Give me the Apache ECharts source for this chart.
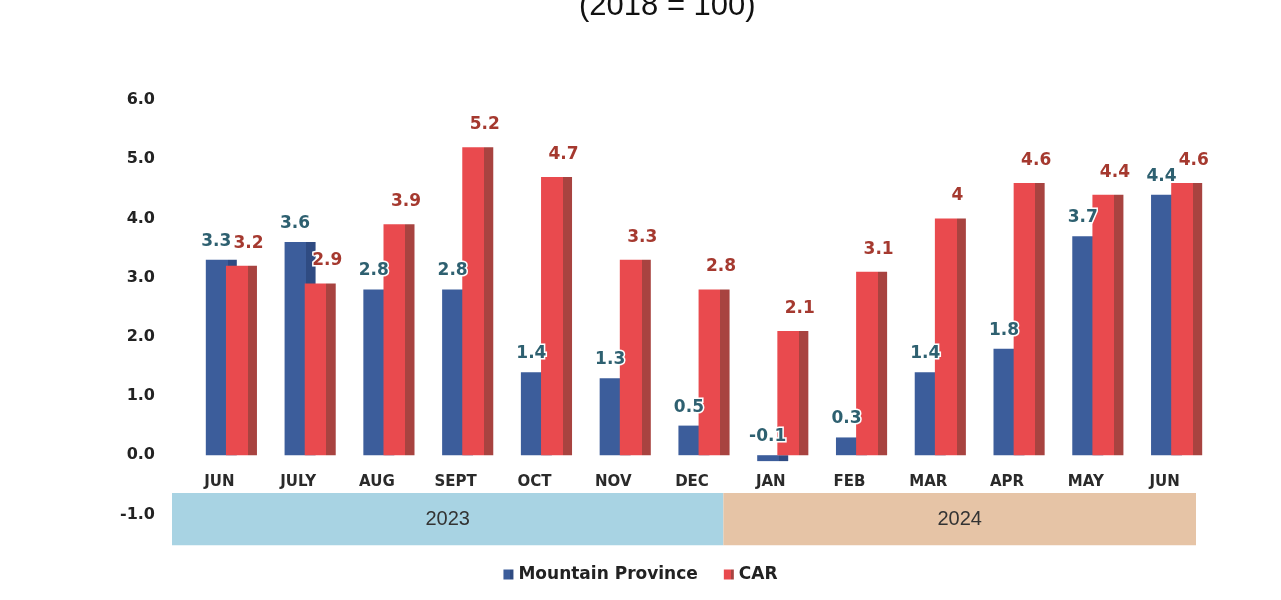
<!DOCTYPE html>
<html>
<head>
<meta charset="utf-8">
<script src="https://cdn.jsdelivr.net/npm/echarts@6/dist/echarts.min.js"></script>
<style>
  html, body { margin: 0; padding: 0; background: #fff; }
  #main { width: 1281px; height: 600px; }
</style>
</head>
<body>
<div id="main"></div>
<script>
var months = ['JUN', 'JULY', 'AUG', 'SEPT', 'OCT', 'NOV', 'DEC', 'JAN', 'FEB', 'MAR', 'APR', 'MAY', 'JUN'];
var mountainProvince = [3.3, 3.6, 2.8, 2.8, 1.4, 1.3, 0.5, -0.1, 0.3, 1.4, 1.8, 3.7, 4.4];
var car = [3.2, 2.9, 3.9, 5.2, 4.7, 3.3, 2.8, 2.1, 3.1, 4, 4.6, 4.4, 4.6];
// year bands: first month index, last month index, label
var yearBands = [[0, 6, '2023'], [7, 12, '2024']];

var chartDom = document.getElementById('main');
var myChart = echarts.init(chartDom);
var option;

// fake 3D: darker right-hand face
function faceGradient(main, side) {
  return new echarts.graphic.LinearGradient(0, 0, 1, 0, [
    { offset: 0, color: main },
    { offset: 0.7, color: main },
    { offset: 0.7, color: side },
    { offset: 1, color: side }
  ]);
}

var bandColors = ['#a8d3e3', '#e6c4a6'];

option = {
  animation: false,
  title: {
    text: '(2018 = 100)',
    left: 574,
    top: -14,
    textStyle: { fontFamily: 'Liberation Sans', fontSize: 31, fontWeight: 'normal', color: '#111' }
  },
  legend: {
    bottom: 12,
    left: 'center',
    itemWidth: 10,
    itemHeight: 10,
    itemGap: 26,
    icon: 'rect',
    data: ['Mountain Province', 'CAR'],
    textStyle: { fontFamily: 'DejaVu Sans', fontWeight: 'bold', fontSize: 17, color: '#222' }
  },
  grid: { left: 192, right: 65, top: 100, bottom: 56 },
  xAxis: {
    type: 'category',
    data: months,
    axisLine: { show: false },
    axisTick: { show: false },
    axisLabel: {
      // month names sit just under the zero line, above the year bands
      margin: -69,
      padding: [0, 24, 0, 0],
      fontFamily: 'DejaVu Sans',
      fontWeight: 'bold',
      fontSize: 15,
      color: '#2a2a2a'
    }
  },
  yAxis: {
    type: 'value',
    min: -1.5,
    max: 6,
    interval: 0.5,
    splitLine: { show: false },
    axisLine: { show: false },
    axisTick: { show: false },
    axisLabel: {
      margin: 37,
      fontFamily: 'DejaVu Sans',
      fontWeight: 'bold',
      fontSize: 16,
      color: '#222',
      formatter: function (v) {
        if (v < -1 || Math.abs(v - Math.round(v)) > 1e-6) return '';
        return v.toFixed(1);
      }
    }
  },
  series: [
    {
      type: 'custom',
      silent: true,
      z: 0,
      data: yearBands,
      renderItem: function (params, api) {
        var w = api.size([1, 0])[0];
        var a = api.coord([api.value(0), -0.64]);
        var b = api.coord([api.value(1), -1.52]);
        var x0 = a[0] - w / 2 - 20;
        var x1 = b[0] + w / 2 - 20;
        return {
          type: 'group',
          children: [
            {
              type: 'rect',
              shape: { x: x0, y: a[1], width: x1 - x0, height: b[1] - a[1] },
              style: { fill: bandColors[params.dataIndex] }
            },
            {
              type: 'text',
              style: {
                text: api.value(2),
                x: (x0 + x1) / 2,
                y: (a[1] + b[1]) / 2,
                align: 'center',
                verticalAlign: 'middle',
                fontFamily: 'Liberation Sans',
                fontSize: 20,
                fill: '#333'
              }
            }
          ]
        };
      }
    },
    {
      name: 'Mountain Province',
      type: 'bar',
      data: mountainProvince,
      barWidth: 31,
      barGap: '-35%',
      itemStyle: { color: faceGradient('#3c5d9b', '#2f4b82') },
      label: {
        show: true,
        position: 'top',
        offset: [-5, -5],
        fontFamily: 'DejaVu Sans',
        fontWeight: 'bold',
        fontSize: 17,
        color: '#2e6070',
        textBorderColor: '#fff',
        textBorderWidth: 3
      }
    },
    {
      name: 'CAR',
      type: 'bar',
      data: car,
      barWidth: 31,
      itemStyle: { color: faceGradient('#e94a4e', '#a84340') },
      label: {
        show: true,
        position: 'top',
        offset: [7, -9],
        fontFamily: 'DejaVu Sans',
        fontWeight: 'bold',
        fontSize: 17,
        color: '#a5392f',
        textBorderColor: '#fff',
        textBorderWidth: 3
      }
    }
  ],
  color: ['#3c5d9b', '#e94a4e']
};

option && myChart.setOption(option);

window.addEventListener('resize', myChart.resize);
</script>
</body>
</html>
